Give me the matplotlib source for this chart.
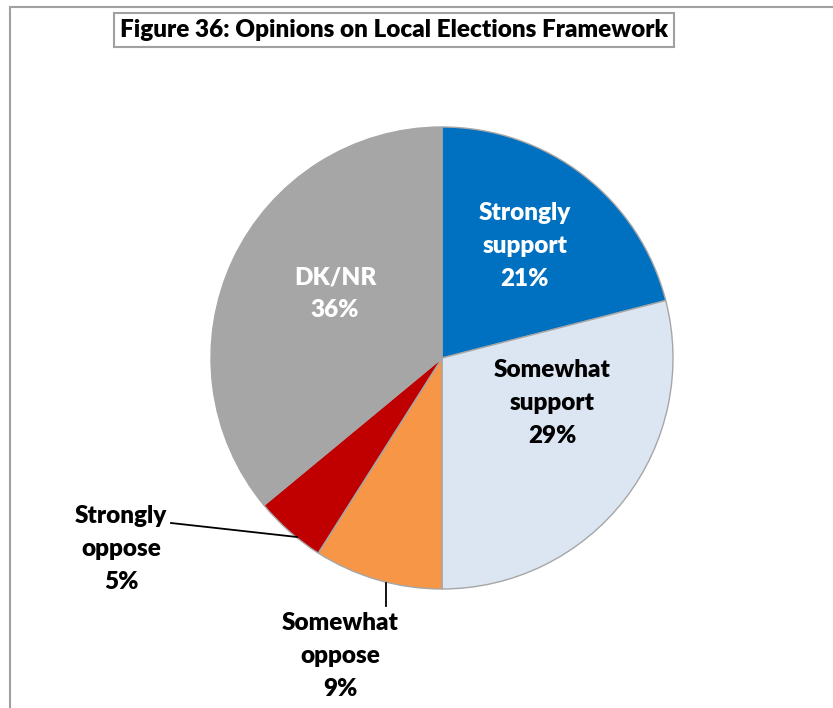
import matplotlib
matplotlib.use("Agg")
import matplotlib.pyplot as plt
from matplotlib.patches import Rectangle

plt.rcParams['font.family'] = ['Lato', 'DejaVu Sans']

categories = ["Strongly\nsupport", "Somewhat\nsupport", "Somewhat\noppose", "Strongly\noppose", "DK/NR"]
values = [21, 29, 9, 5, 36]
colors = ["#0070C0", "#DCE6F2", "#F79646", "#C00000", "#A6A6A6"]
label_colors = ["white", "black", "black", "black", "white"]
title = "Figure 36: Opinions on Local Elections Framework"

W, H = 833, 708
fig = plt.figure(figsize=(W / 100, H / 100), dpi=100)
ax = fig.add_axes([0, 0, 1, 1])

# outer chart frame (runs off the right and bottom edges)
ax.add_patch(Rectangle((10, -20), W + 20, H - 7 + 20, fill=False,
                       edgecolor="#A0A0A0", lw=1.5))

cx, cy, r = 442, H - 358, 231
wedges, _ = ax.pie(values, colors=colors, startangle=90, counterclock=False,
                   center=(cx, cy), radius=r, frame=True,
                   wedgeprops=dict(edgecolor="#A6A6A6", linewidth=1.0))
ax.set_xlim(0, W)
ax.set_ylim(0, H)
ax.set_aspect('equal')
ax.axis('off')

labels = [f"{c}\n{v}%" for c, v in zip(categories, values)]
label_pos = [(525, 246), (552, 403), (340, 656), (121, 549), (335, 294)]
for lab, (x, y), col in zip(labels, label_pos, label_colors):
    ax.text(x, H - y, lab, ha='center', va='center', color=col,
            fontsize=17.5, fontweight='heavy', linespacing=1.6)

# leader lines for the small slices
ax.plot([171, 297], [H - 523, H - 537], color='black', lw=1.3)
ax.plot([386, 386], [H - 583, H - 606], color='black', lw=1.3)

ax.text(394, H - 30, title, ha='center', va='center', fontsize=17.5,
        fontweight='heavy', color='black',
        bbox=dict(boxstyle='square,pad=0.25', facecolor='white',
                  edgecolor='#A0A0A0', lw=1.5))

fig.savefig("out.png", dpi=100)
